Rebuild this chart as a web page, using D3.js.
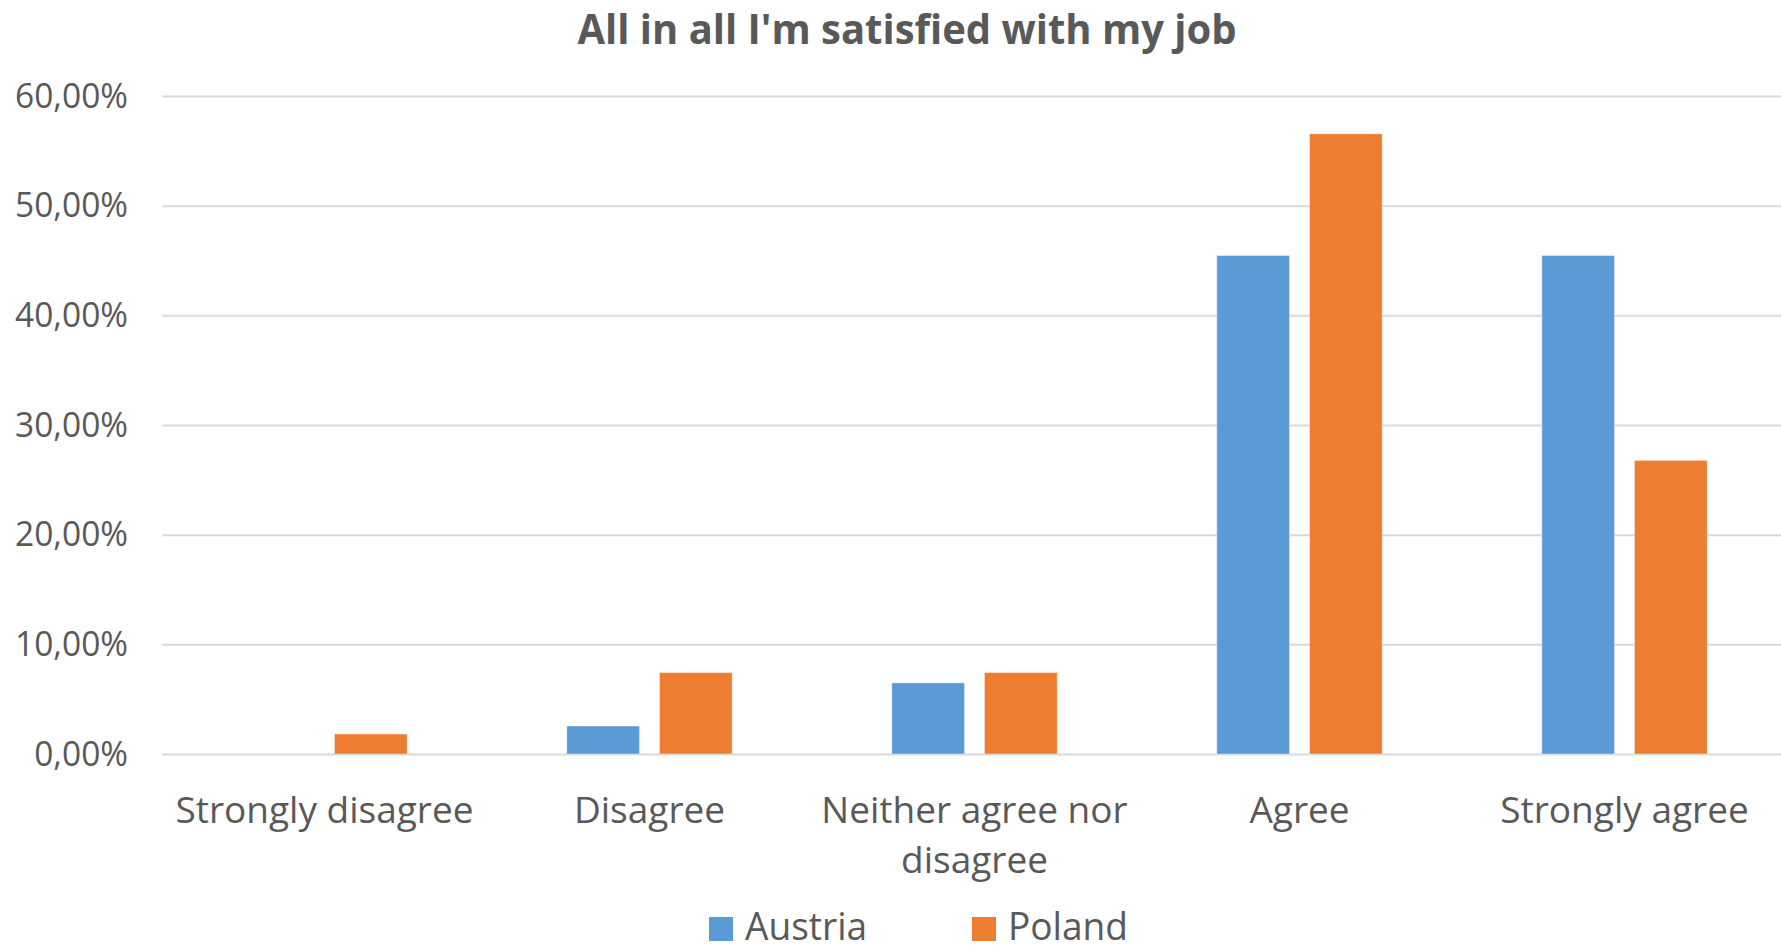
<!DOCTYPE html>
<html>
<head>
<meta charset="utf-8">
<script src="https://cdn.jsdelivr.net/npm/d3@7"></script>
<style>
  html, body { margin: 0; padding: 0; background: #fff; }
  svg { display: block; }
  text { font-family: "Open Sans", "DejaVu Sans", sans-serif; fill: #595959; }
</style>
</head>
<body>
<svg id="chart"></svg>
<script>
// data
const title = "All in all I'm satisfied with my job"
const categories = ["Strongly disagree", "Disagree", "Neither agree nor disagree", "Agree", "Strongly agree"]
const seriesNames = ["Austria", "Poland"]
const austria = [0, 0.0255, 0.0648, 0.4545, 0.4545]
const poland = [0.0182, 0.0742, 0.0742, 0.5655, 0.2677]
const yTicks = [0, 0.1, 0.2, 0.3, 0.4, 0.5, 0.6]
const colors = ["#5B9BD5", "#ED7D31"]

const seriesValues = [austria, poland]

//graph size
const graphWidth = 1781
const graphHeight = 951
const margin = { top: 96, bottom: 197, left: 162 }

const svg = d3.select('#chart')
    .attr('width', graphWidth)
    .attr('height', graphHeight)

// comma as decimal separator
const locale = d3.formatLocale({ decimal: ",", thousands: ".", grouping: [3], currency: ["", "€"] })
const pct = locale.format(".2%")

// squeeze a text a little so it runs as narrow as the original font
function squeeze(sel, k) {
  sel.each(function() {
    const w = this.getComputedTextLength()
    d3.select(this)
        .attr('textLength', w * k)
        .attr('lengthAdjust', 'spacingAndGlyphs')
  })
}

//scales
const xScale = d3.scaleBand()
    .domain(categories)
    .range([margin.left, margin.left + 325 * categories.length])

const xInner = d3.scaleBand()
    .domain(seriesNames)
    .range([0, xScale.bandwidth()])
    .paddingInner(0.216)
    .paddingOuter(0.861)

const yScale = d3.scaleLinear()
    .domain([0, 0.6])
    .range([graphHeight - margin.bottom, margin.top])

//y axis with gridlines
const yAxis = d3.axisLeft(yScale)
    .tickValues(yTicks)
    .tickSize(-(graphWidth - margin.left))
    .tickPadding(34)
    .tickFormat(pct)

const yAxisGroup = svg.append('g')
    .attr('transform', `translate(${margin.left},0)`)
    .call(yAxis)

yAxisGroup.select('.domain').remove()
yAxisGroup.selectAll('.tick line')
    .attr('stroke', '#D9D9D9')
    .attr('stroke-width', 2)
yAxisGroup.selectAll('.tick text')
    .attr('font-family', '"Open Sans", sans-serif')
    .attr('font-size', 34)
    .attr('fill', '#595959')
    .attr('dy', '0.33em')
    .call(squeeze, 0.985)

//bars
const groups = svg.append('g')
  .selectAll('g')
  .data(categories)
  .join('g')
    .attr('transform', d => `translate(${xScale(d)},0)`)

groups.selectAll('rect')
  .data((d, i) => seriesNames.map((s, j) => ({ series: s, value: seriesValues[j][i], color: colors[j] })))
  .join('rect')
    .attr('x', d => xInner(d.series))
    .attr('width', xInner.bandwidth())
    .attr('y', d => yScale(d.value))
    .attr('height', d => yScale(0) - yScale(d.value))
    .attr('fill', d => d.color)
    .attr('stroke', '#fff')
    .attr('stroke-opacity', 0.35)
    .attr('stroke-width', 1)

//category labels, wrapped to the band width
const labelSize = 37
const lineHeight = 50
const labels = svg.append('g')
  .selectAll('text')
  .data(categories)
  .join('text')
    .attr('text-anchor', 'middle')
    .attr('font-size', labelSize)
    .attr('x', d => xScale(d) + xScale.bandwidth() / 2)
    .attr('y', graphHeight - margin.bottom + 69)

labels.each(function(d) {
  const el = d3.select(this)
  const x = el.attr('x')
  const words = d.split(' ')
  let line = []
  let tspan = el.append('tspan').attr('x', x).attr('dy', 0)
  words.forEach(w => {
    line.push(w)
    tspan.text(line.join(' '))
    if (tspan.node().getComputedTextLength() > xScale.bandwidth() * 0.97 && line.length > 1) {
      line.pop()
      tspan.text(line.join(' '))
      line = [w]
      tspan = el.append('tspan').attr('x', x).attr('dy', lineHeight).text(w)
    }
  })
})

//title
svg.append('text')
    .attr('x', 907)
    .attr('y', 44)
    .attr('text-anchor', 'middle')
    .attr('font-size', 41)
    .attr('font-weight', 'bold')
    .text(title)
    .call(squeeze, 0.975)

//legend
const legend = svg.append('g')
  .selectAll('g')
  .data(seriesNames)
  .join('g')
    .attr('transform', (d, i) => `translate(${709 + i * 263},0)`)

legend.append('rect')
    .attr('y', 917)
    .attr('width', 24)
    .attr('height', 24)
    .attr('fill', (d, i) => colors[i])

legend.append('text')
    .attr('x', 36)
    .attr('y', 940)
    .attr('font-size', 39)
    .text(d => d)
    .call(squeeze, 0.95)
</script>
</body>
</html>
